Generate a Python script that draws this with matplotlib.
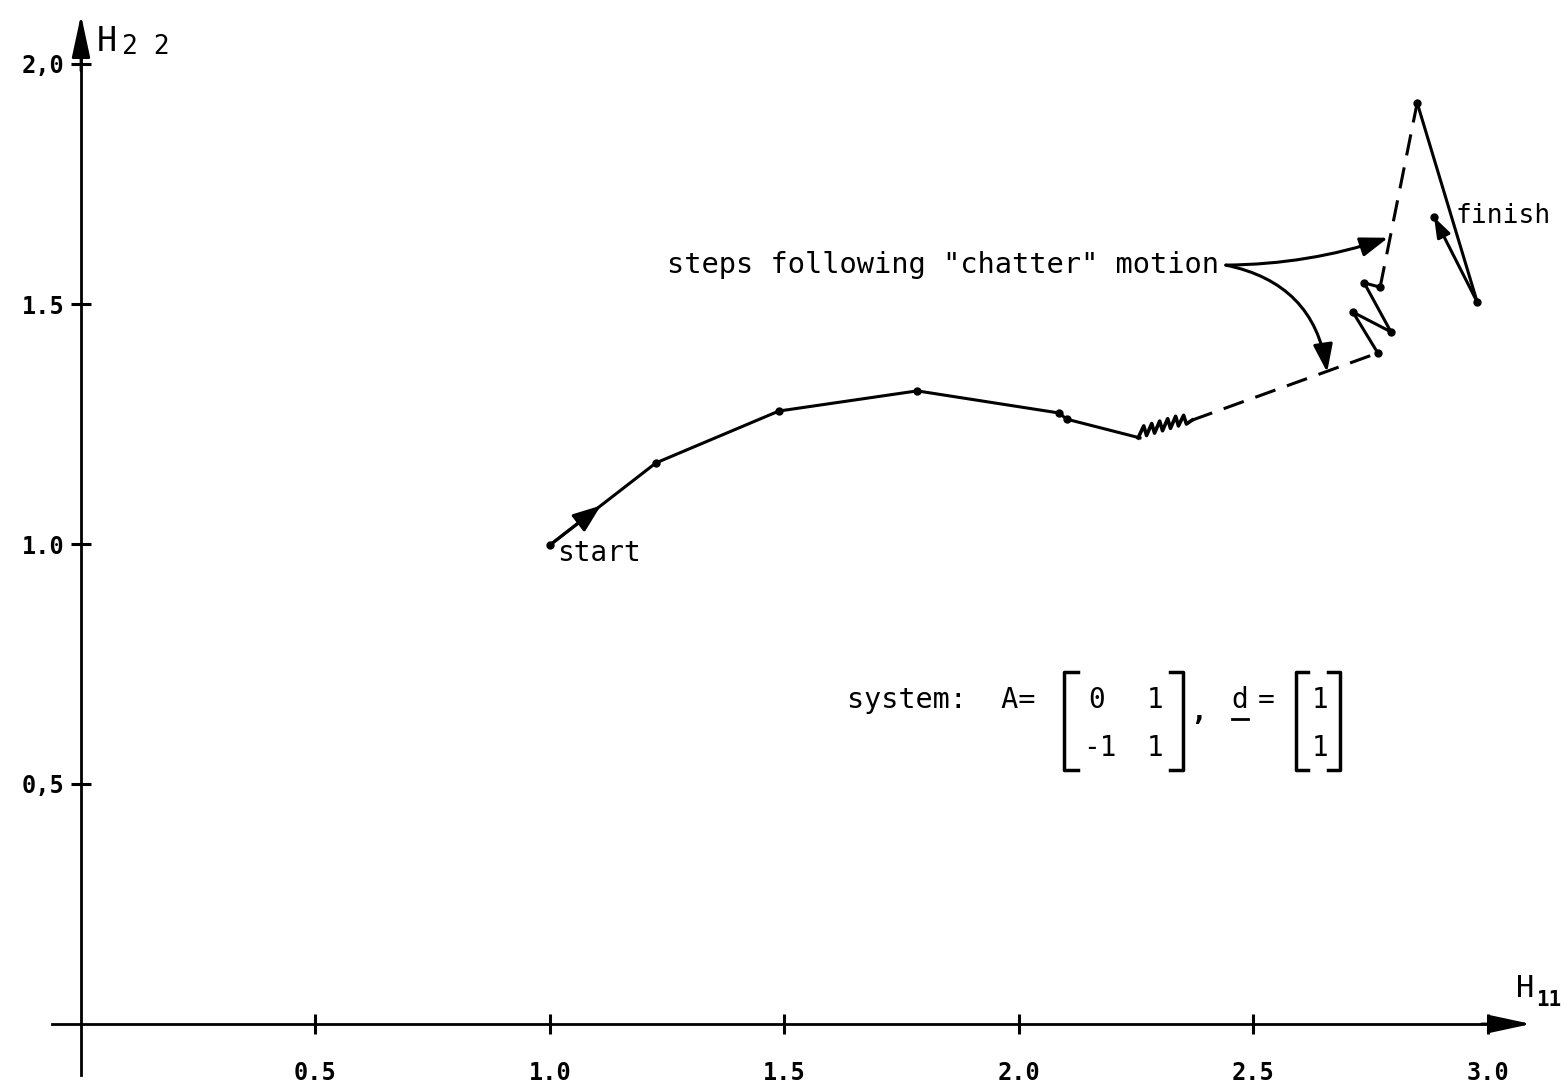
import matplotlib
matplotlib.use("Agg")
import matplotlib.pyplot as plt

plt.rcParams['font.family'] = ['DejaVu Sans Mono', 'DejaVu Sans']
plt.rcParams['mathtext.fontset'] = 'dejavusans'

# trajectory in the (H11, H22) plane
path_h11 = [1.000, 1.226, 1.488, 1.783, 2.085, 2.102, 2.258]
path_h22 = [0.998, 1.169, 1.277, 1.319, 1.273, 1.260, 1.221]

# chatter zigzag
chatter_h11 = [2.254, 2.266, 2.272, 2.283, 2.289, 2.300, 2.306, 2.317, 2.323, 2.334, 2.340, 2.351, 2.357, 2.369]
chatter_h22 = [1.221, 1.246, 1.226, 1.251, 1.231, 1.256, 1.236, 1.261, 1.241, 1.266, 1.246, 1.268, 1.250, 1.258]

# steps following chatter (dashed), then the N shaped steps
dash1_h11 = [2.369, 2.765]
dash1_h22 = [1.258, 1.398]
n_h11 = [2.765, 2.712, 2.793, 2.736, 2.770]
n_h22 = [1.398, 1.483, 1.442, 1.544, 1.535]
dash2_h11 = [2.770, 2.849]
dash2_h22 = [1.535, 1.919]
end_h11 = [2.849, 2.977, 2.885]
end_h22 = [1.919, 1.504, 1.681]

xticks = [0.5, 1.0, 1.5, 2.0, 2.5, 3.0]
xtick_labels = ['0.5', '1.0', '1.5', '2.0', '2.5', '3.0']
yticks = [0.5, 1.0, 1.5, 2.0]
ytick_labels = ['0,5', '1.0', '1.5', '2,0']

fig = plt.figure(figsize=(15.67, 10.87), dpi=100)
ax = fig.add_axes([0, 0, 1, 1])
ax.set_xlim(-81 / 469, (1567 - 81) / 469)
ax.set_ylim((1024 - 1087) / 480, 1024 / 480)

# axes through the origin with arrow tips
for s in ['top', 'right']:
    ax.spines[s].set_visible(False)
ax.spines['left'].set_position(('data', 0))
ax.spines['bottom'].set_position(('data', 0))
ax.spines['left'].set_bounds(-0.106, 2.05)
ax.spines['bottom'].set_bounds(-0.062, 3.05)
for s in ['left', 'bottom']:
    ax.spines[s].set_linewidth(2)
head = '-|>,head_length=1.3,head_width=0.28'
ax.annotate('', xy=(0, 2.108), xytext=(0, 1.98),
            arrowprops=dict(arrowstyle=head, color='k', lw=2, mutation_scale=20))
ax.annotate('', xy=(3.098, 0), xytext=(2.98, 0),
            arrowprops=dict(arrowstyle=head, color='k', lw=2, mutation_scale=20))

ax.set_xticks(xticks)
ax.set_xticklabels(xtick_labels, fontsize=17, fontweight='bold')
ax.set_yticks(yticks)
ax.set_yticklabels(ytick_labels, fontsize=17, fontweight='bold')
ax.tick_params(axis='both', direction='inout', length=14, width=2.2)
ax.tick_params(axis='x', pad=20)
ax.tick_params(axis='y', pad=5)

ax.text(0.033, 2.047, 'H', fontsize=24, ha='left', va='center')
ax.text(0.087, 2.035, '2 2', fontsize=19, ha='left', va='center')
ax.text(3.060, 0.073, 'H', fontsize=22, ha='left', va='center')
ax.text(3.103, 0.050, '11', fontsize=15, ha='left', va='center',
        fontweight='bold')

lw = 2.2
dashes = (0, (7, 4))
ax.plot(path_h11, path_h22, color='k', lw=lw, marker='o', ms=5,
        markevery=list(range(len(path_h11) - 1)))
ax.plot(chatter_h11, chatter_h22, color='k', lw=2.6)
ax.plot(dash1_h11, dash1_h22, color='k', lw=lw, ls=dashes)
ax.plot(n_h11, n_h22, color='k', lw=lw, marker='o', ms=5)
ax.plot(dash2_h11, dash2_h22, color='k', lw=lw, ls=dashes)
ax.plot(end_h11[:2], end_h22[:2], color='k', lw=lw, marker='o', ms=5)

# direction arrows at start and finish
mid = ((path_h11[0] + path_h11[1]) / 2, (path_h22[0] + path_h22[1]) / 2)
ax.annotate('', xy=mid, xytext=(path_h11[0], path_h22[0]),
            arrowprops=dict(arrowstyle='-|>,head_length=1.0,head_width=0.38',
                            color='k', lw=lw, mutation_scale=17))
ax.annotate('', xy=(end_h11[2], end_h22[2]), xytext=(end_h11[1], end_h22[1]),
            arrowprops=dict(arrowstyle='-|>,head_length=1.0,head_width=0.35',
                            color='k', lw=lw, mutation_scale=12, shrinkA=0, shrinkB=0))
ax.plot(end_h11[2], end_h22[2], 'ko', ms=5)

ax.text(1.015, 0.981, 'start', fontsize=20, ha='left', va='center')
ax.text(2.930, 1.683, 'finish', fontsize=19, ha='left', va='center')

# label with its two curved arrows
ax.text(1.2495, 1.581, 'steps following "chatter" motion', fontsize=20.7,
        ha='left', va='center')
src = (2.441, 1.581)
arrow_kw = dict(arrowstyle='-|>,head_length=1.0,head_width=0.35', color='k',
                lw=lw, mutation_scale=17, shrinkA=0, shrinkB=0)
ax.annotate('', xy=(2.787, 1.638), xytext=src,
            arrowprops=dict(connectionstyle='arc3,rad=0.08', **arrow_kw))
ax.annotate('', xy=(2.657, 1.358), xytext=src,
            arrowprops=dict(connectionstyle='arc3,rad=-0.35', **arrow_kw))

# system matrices
ax.text(1.633, 0.675, 'system:  A=', fontsize=20.5, ha='left', va='center')
ax.text(2.166, 0.675, '0', fontsize=20, ha='center', va='center')
ax.text(2.290, 0.675, '1', fontsize=20, ha='center', va='center')
ax.text(2.172, 0.575, '-1', fontsize=20, ha='center', va='center')
ax.text(2.290, 0.575, '1', fontsize=20, ha='center', va='center')
ax.text(2.383, 0.650, ',', fontsize=20, ha='center', va='center',
        fontweight='bold')
ax.text(2.471, 0.675, 'd', fontsize=20, ha='center', va='center')
ax.plot([2.455, 2.489], [0.636, 0.636], color='k', lw=2)
ax.text(2.527, 0.675, '=', fontsize=20, ha='center', va='center')
ax.text(2.642, 0.675, '1', fontsize=20, ha='center', va='center')
ax.text(2.642, 0.575, '1', fontsize=20, ha='center', va='center')

top, bot = 0.733, 0.529
for xb, xs in [(2.096, 2.126), (2.350, 2.322), (2.591, 2.616), (2.684, 2.659)]:
    ax.plot([xs, xb, xb, xs], [top, top, bot, bot], color='k', lw=2.5)

fig.savefig('out.png', dpi=100)
